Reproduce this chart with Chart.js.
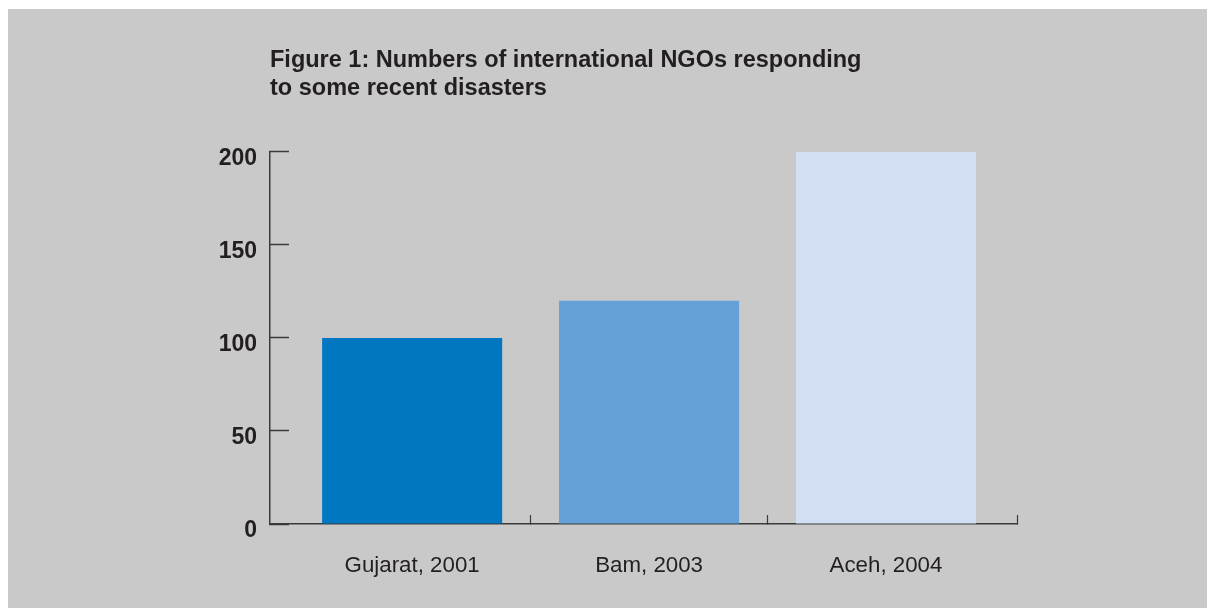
<!DOCTYPE html>
<html lang="en">

<head>
    <meta charset="UTF-8">
    <script src="https://cdn.jsdelivr.net/npm/chart.js@4.4.0/dist/chart.umd.min.js"></script>
    <title>International NGOs - Chart</title>
    <style>
        body { margin: 0; background: #fff; }
        #wrap { position: absolute; left: 8px; top: 9px; width: 1199px; height: 599px; background: #c9c9c9; }
    </style>
</head>

<body>

    <div id="wrap"><canvas id="myChart"></canvas></div>

    <script>
        // data
        const categories = ['Gujarat, 2001', 'Bam, 2003', 'Aceh, 2004'];
        const ngoCounts = [100, 120, 200];
        const barColors = ['#0077c0', '#64a1d6', '#d3e0f3'];
        const yTicks = [0, 50, 100, 150, 200];
        const titleLines = ['Figure 1: Numbers of international NGOs responding', 'to some recent disasters'];

        const X_MIN = -0.6, X_MAX = 2.553;
        const axisColor = '#3a3a3a';
        const textColor = '#231f20';

        const points = categories.map((c, i) => ({ x: i, y: ngoCounts[i] }));

        const canvas = document.getElementById('myChart');
        canvas.width = 1199;
        canvas.height = 599;

        new Chart(canvas.getContext('2d'), {
            type: 'bar',
            data: {
                datasets: [{
                    data: points,
                    backgroundColor: barColors,
                    // ticks sit every 0.5 unit, so the ruler is half a category
                    barPercentage: 1.52,
                    categoryPercentage: 1
                }]
            },
            options: {
                responsive: false,
                animation: false,
                layout: {
                    padding: { left: 150, right: 190, top: 37, bottom: 31 }
                },
                plugins: {
                    legend: { display: false },
                    tooltip: { enabled: false },
                    title: {
                        display: true,
                        text: titleLines,
                        align: 'start',
                        fullSize: false,
                        color: textColor,
                        font: { family: '"Liberation Sans", Arial, sans-serif', size: 23.5, weight: 'bold', lineHeight: 1.22 },
                        padding: { top: 0, bottom: 48.6 }
                    }
                },
                scales: {
                    x: {
                        type: 'linear',
                        min: X_MIN,
                        max: X_MAX,
                        offset: false,
                        afterBuildTicks: s => {
                            s.ticks = [0, 0.5, 1, 1.5, 2, X_MAX].map(v => ({ value: v }));
                        },
                        afterFit: s => { s.height = 53; },
                        ticks: {
                            autoSkip: false,
                            maxRotation: 0,
                            padding: 37.5,
                            color: textColor,
                            font: { family: '"Liberation Sans", Arial, sans-serif', size: 22.3 },
                            callback: v => Number.isInteger(v) ? categories[v] : ''
                        },
                        grid: {
                            offset: false,
                            drawOnChartArea: false,
                            tickLength: -9,
                            tickWidth: 1.2,
                            tickColor: ctx => (ctx.tick && Number.isInteger(ctx.tick.value)) ? 'rgba(0,0,0,0)' : axisColor
                        },
                        border: { color: axisColor, width: 1.5 }
                    },
                    y: {
                        min: 0,
                        max: 200,
                        afterBuildTicks: s => {
                            s.ticks = yTicks.map(v => ({ value: v }));
                        },
                        afterFit: s => { s.width = 112; },
                        ticks: {
                            padding: 32,
                            labelOffset: 7,
                            color: textColor,
                            font: { family: '"Liberation Sans", Arial, sans-serif', size: 23, weight: 'bold' }
                        },
                        grid: {
                            drawOnChartArea: false,
                            tickLength: -19,
                            tickWidth: 1.5,
                            tickColor: axisColor
                        },
                        border: { color: axisColor, width: 1.5 }
                    }
                }
            }
        });
    </script>

</body>

</html>
